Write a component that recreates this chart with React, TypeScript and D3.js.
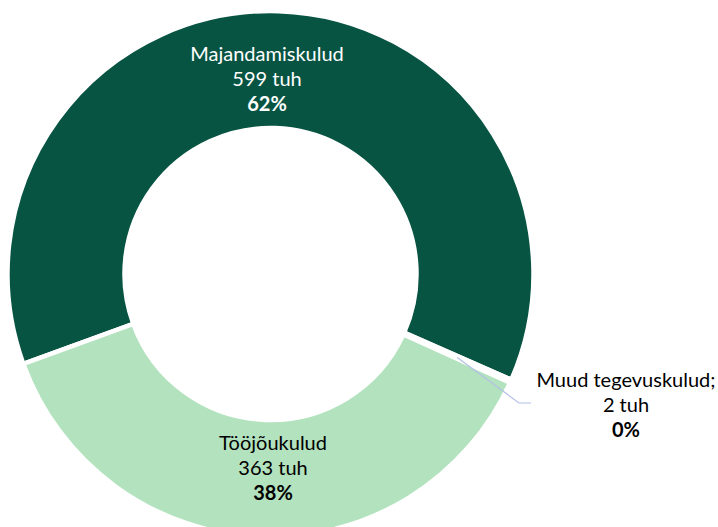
import React from "react";
import * as d3 from "d3";

const categories = ["Majandamiskulud", "Muud tegevuskulud", "Tööjõukulud"];
const values = [599, 2, 363];
const unit = "tuh";
const colors = ["#075443", "#ffffff", "#b3e2be"];
const textColors = ["#ffffff", "#000000", "#000000"];

const W = 718;
const H = 527;
const cx = 270.5;
const cy = 274;
const R = 263;
const r = 146;

export default function App() {
  const total = d3.sum(values);
  const pie = d3
    .pie<number>()
    .sort(null)
    .startAngle((-110 * Math.PI) / 180)
    .endAngle((250 * Math.PI) / 180);
  const arcs = pie(values);
  const arc = d3.arc<d3.PieArcDatum<number>>().innerRadius(r).outerRadius(R);
  const pct = (v: number) => `${Math.round((v / total) * 100)}%`;
  const font = "Lato, 'Open Sans', sans-serif";
  const fs = 20;
  const lh = 25.2;

  const majLabel = { x: 267, y: 61 };
  const tooLabel = { x: 273, y: 450 };
  const muudLabel = { x: 626, y: 386.7 };
  const muudCentroid = arc.centroid(arcs[1]);

  const lines = (i: number, withSemicolon: boolean) => [
    categories[i] + (withSemicolon ? ";" : ""),
    `${values[i]} ${unit}`,
    pct(values[i]),
  ];

  const renderLabel = (i: number, pos: { x: number; y: number }, semi: boolean) =>
    lines(i, semi).map((t, k) => (
      <text
        key={k}
        x={pos.x}
        y={pos.y + k * lh}
        textAnchor="middle"
        fill={textColors[i]}
        fontFamily={font}
        fontSize={fs}
        fontWeight={k === 2 ? "bold" : "normal"}
      >
        {t}
      </text>
    ));

  return (
    <div style={{ position: "fixed", left: 0, top: 0 }}>
      <svg width={W} height={H} style={{ display: "block", background: "#fff" }}>
        <g transform={`translate(${cx},${cy})`}>
          {arcs.map((a, i) => (
            <path key={i} d={arc(a) || ""} fill={colors[i]} stroke="#ffffff" strokeWidth={4.5} />
          ))}
        </g>
        <polyline
          points={`${cx + muudCentroid[0]},${cy + muudCentroid[1]} 519,403 531,403`}
          fill="none"
          stroke="#b4c0e6"
          strokeWidth={1.2}
        />
        {renderLabel(0, majLabel, false)}
        {renderLabel(2, tooLabel, false)}
        {renderLabel(1, muudLabel, true)}
      </svg>
    </div>
  );
}
